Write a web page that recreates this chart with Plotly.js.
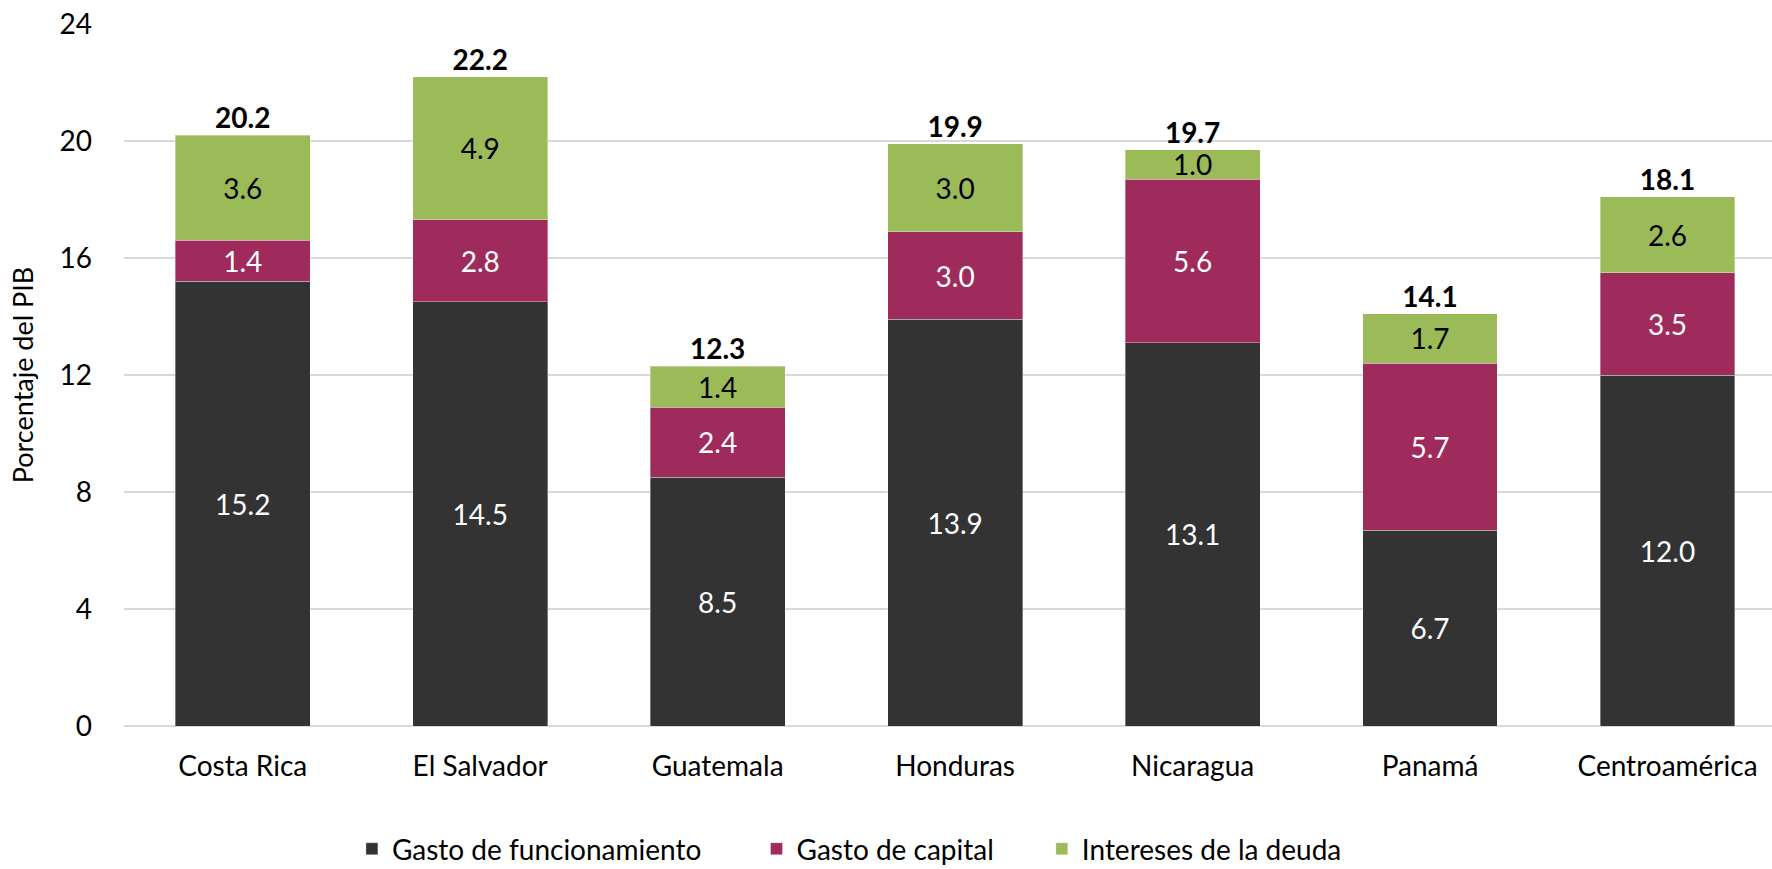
<!DOCTYPE html>
<html>
<head>
<meta charset="utf-8">
<script src="https://cdn.plot.ly/plotly-3.0.1.min.js"></script>
<style>html,body{margin:0;padding:0;background:#fff;}#chart{width:1772px;height:869px;}</style>
</head>
<body>
<div id="chart"></div>
<script>
const categories = ["Costa Rica", "El Salvador", "Guatemala", "Honduras", "Nicaragua", "Panamá", "Centroamérica"];
const funcionamiento = [15.2, 14.5, 8.5, 13.9, 13.1, 6.7, 12.0];
const capital = [1.4, 2.8, 2.4, 3.0, 5.6, 5.7, 3.5];
const intereses = [3.6, 4.9, 1.4, 3.0, 1.0, 1.7, 2.6];
const totals = [20.2, 22.2, 12.3, 19.9, 19.7, 14.1, 18.1];
const seriesNames = ["Gasto de funcionamiento", "Gasto de capital", "Intereses de la deuda"];
const yTicks = [0, 4, 8, 12, 16, 20, 24];

const FONT = "Lato, 'Open Sans', sans-serif";
const FS = 28;
const fmt = v => v.toFixed(1);
const barLine = {color: "rgba(255,255,255,0.35)", width: 1};
const NB = "\u00A0";

function barTrace(vals, name, legendName, color, textColor) {
  return {
    type: "bar", x: categories, y: vals, name: legendName,
    marker: {color: color, line: barLine},
    text: vals.map(fmt), textposition: "inside", insidetextanchor: "middle",
    constraintext: "none",
    textfont: {family: FONT, size: FS, color: textColor},
    hovertemplate: "%{x}<br>" + name + ": %{y}<extra></extra>"
  };
}

const data = [
  barTrace(funcionamiento, seriesNames[0], seriesNames[0] + NB.repeat(7), "#333333", "#ffffff"),
  barTrace(capital, seriesNames[1], seriesNames[1] + NB.repeat(6), "#9E2B5B", "#ffffff"),
  barTrace(intereses, seriesNames[2], seriesNames[2], "#9BBB59", "#000000"),
  {
    type: "scatter", mode: "text", x: categories, y: totals,
    text: totals.map(v => "<b>" + fmt(v) + "</b>"),
    textposition: "top center", cliponaxis: false,
    textfont: {family: FONT, size: FS, color: "#000000"},
    showlegend: false, hoverinfo: "skip"
  }
];

const layout = {
  width: 1772, height: 869,
  paper_bgcolor: "#ffffff", plot_bgcolor: "#ffffff",
  margin: {l: 124, r: 0, t: 24, b: 143, pad: 0, autoexpand: false},
  barmode: "stack", bargap: 0.432,
  font: {family: FONT, size: FS, color: "#000000"},
  xaxis: {
    type: "category", range: [-0.5, 6.44],
    showgrid: false, zeroline: false, showline: false, ticks: "",
    tickfont: {family: FONT, size: FS, color: "#000000"},
    ticklabelstandoff: 21, fixedrange: true
  },
  yaxis: {
    range: [0, 24], tickvals: yTicks, ticktext: yTicks.map(String),
    showgrid: true, gridcolor: "#D9D9D9", gridwidth: 1.5,
    zeroline: true, zerolinecolor: "#D9D9D9", zerolinewidth: 1.5,
    showline: false, ticks: "",
    tickfont: {family: FONT, size: FS, color: "#000000"},
    ticklabelstandoff: 31,
    title: {text: "Porcentaje del PIB", font: {family: FONT, size: FS - 1, color: "#000000"}, standoff: 18},
    fixedrange: true
  },
  legend: {
    orientation: "h", x: 780 / 1772, xanchor: "center", xref: "paper",
    y: -0.1753, yanchor: "middle",
    font: {family: FONT, size: FS, color: "#000000"},
    traceorder: "normal", itemclick: false, itemdoubleclick: false
  },
  showlegend: true
};

Plotly.newPlot("chart", data, layout, {displayModeBar: false, staticPlot: true});
</script>
</body>
</html>
